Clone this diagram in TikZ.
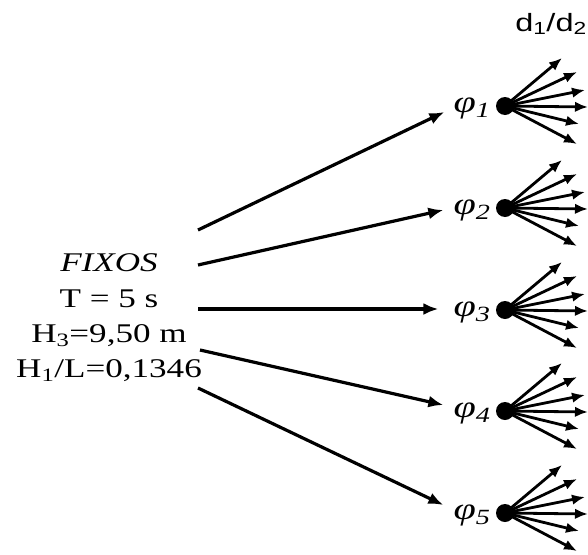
\documentclass[tikz,border=0pt]{standalone}
\usepackage{fontspec}
\setmainfont[FakeStretch=1.3]{Liberation Serif}
\setsansfont[FakeStretch=1.3]{Liberation Sans}
\usetikzlibrary{arrows.meta,calc}

\tikzset{
  params/.style={align=center, inner sep=0pt, font=\fontsize{27}{35.4}\selectfont},
  philabel/.style={inner sep=0pt, font=\itshape\fontsize{31}{32}\selectfont},
  ratio/.style={inner sep=0pt, font=\sffamily\fontsize{25}{28}\selectfont},
  dot/.style={circle, fill=black, inner sep=0pt, minimum size=18pt},
  mainarrow/.style={line width=3.2pt, -{Latex[length=15pt,width=12pt]}},
  fanarrow/.style={line width=2.8pt, -{Latex[length=13pt,width=10.5pt]}}
}

\begin{document}
\begin{tikzpicture}[x=1pt, y=-1pt]
  \useasboundingbox (0,0) rectangle (588,554);

  % fixed parameters of the test series
  \node[params] (src) at (109,318)
    {\textit{FIXOS}\\T = 5 s\\H\textsubscript{3}=9,50 m\\H\textsubscript{1}/L=0,1346};

  % ratio heading above the fans
  \node[ratio] (ratio) at (551,24) {d\textsubscript{1}/d\textsubscript{2}};

  % start points of the main arrows, next to the parameter block
  \coordinate (s1) at (198,230);
  \coordinate (s2) at (198,265);
  \coordinate (s3) at (198,309);
  \coordinate (s4) at (200,350);
  \coordinate (s5) at (198,388);

  % angle labels and branching dots
  \foreach \k/\y in {1/106, 2/208, 3/310, 4/411, 5/513}{
    \node[philabel] (p\k) at (472,\y+2) {φ\textsubscript{\k}};
    \node[dot] (d\k) at (505,\y) {};
    \foreach \j/\dx/\dy in {a/57/-48, b/72/-34, c/80/-16, d/83/1, e/74/18, f/72/38}{
      \coordinate (t\k\j) at ($(d\k.center)+(\dx,\dy)$);
      \draw[fanarrow] (d\k.center) -- (t\k\j);
    }
  }

  % main arrows from the parameter block to each angle
  \draw[mainarrow] (s1) -- ([shift={(-9,4)}]p1.west);
  \draw[mainarrow] (s2) -- ([shift={(-10,0)}]p2.west);
  \draw[mainarrow] (s3) -- ([shift={(-15,-3)}]p3.west);
  \draw[mainarrow] (s4) -- ([shift={(-10,-8)}]p4.west);
  \draw[mainarrow] (s5) -- ([shift={(-10,-10)}]p5.west);
\end{tikzpicture}
\end{document}
